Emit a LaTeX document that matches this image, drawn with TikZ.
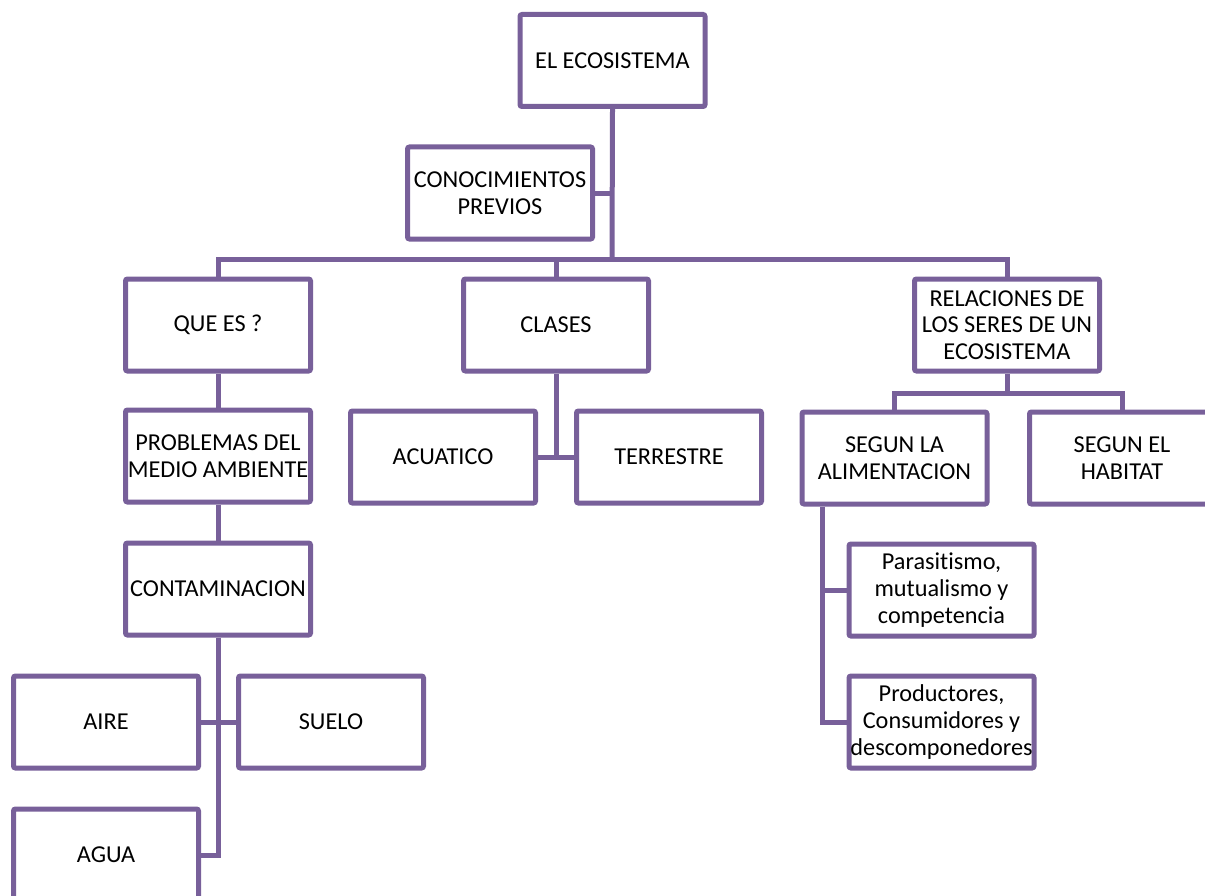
\documentclass[tikz,border=0pt]{standalone}
\usepackage{fontspec}
\setmainfont{Carlito}[Ligatures={NoCommon}]
\definecolor{pur}{RGB}{120,96,154}
\begin{document}
\begin{tikzpicture}[x=0.75pt,y=-0.75pt,
  box/.style={draw=pur, line width=3.75pt, rounded corners=1.5pt, fill=white,
    minimum width=138.75pt, minimum height=69pt, align=center, inner sep=0pt,
    font=\fontsize{18.2}{20}\selectfont},
  conn/.style={draw=pur, line width=3.75pt}]
\useasboundingbox (0,0) rectangle (1205,895);
\node[box] (eco) at (612.5,60.5) {EL ECOSISTEMA};
\node[box] (conoc) at (500,193) {CONOCIMIENTOS\\PREVIOS};
\node[box] (quees) at (218,325) {QUE ES ?};
\node[box] (clases) at (556,325) {CLASES};
\node[box] (relac) at (1007,325) {RELACIONES DE\\LOS SERES DE UN\\ECOSISTEMA};
\node[box] (probl) at (218,456) {PROBLEMAS DEL\\MEDIO AMBIENTE};
\node[box] (contam) at (218,589) {CONTAMINACION};
\node[box] (aire) at (106,722) {AIRE};
\node[box] (suelo) at (331,722) {SUELO};
\node[box] (agua) at (106,855) {AGUA};
\node[box] (acua) at (443,457) {ACUATICO};
\node[box] (terr) at (669,457) {TERRESTRE};
\node[box] (alim) at (894.5,458) {SEGUN LA\\ALIMENTACION};
\node[box] (habit) at (1122,458) {SEGUN EL\\HABITAT};
\node[box] (paras) at (941.5,590) {Parasitismo,\\mutualismo y\\competencia};
\node[box] (prod) at (941.5,722) {Productores,\\Consumidores y\\descomponedores};
\coordinate (j0) at (612,259);
\coordinate (av) at (822,503);
\draw[conn] (eco.south) -- (j0);
\draw[conn] (conoc.east) -- (conoc.east -| j0);
\draw[conn] (quees.north) |- (j0) -| (relac.north);
\draw[conn] (clases.north) -- (clases.north |- j0);
\draw[conn] (quees.south) -- (probl.north);
\draw[conn] (probl.south) -- (contam.north);
\draw[conn] (contam.south) |- (agua.east);
\draw[conn] (aire.east) -- (suelo.west);
\draw[conn] (clases.south) -- (clases.south |- acua.east);
\draw[conn] (acua.east) -- (terr.west);
\draw[conn] (relac.south) -- ++(0,20) coordinate (rj);
\draw[conn] (alim.north) |- (rj) -| (habit.north);
\draw[conn] (av |- alim.south) |- (prod.west);
\draw[conn] (paras.west) -- (paras.west -| av);
\end{tikzpicture}
\end{document}
